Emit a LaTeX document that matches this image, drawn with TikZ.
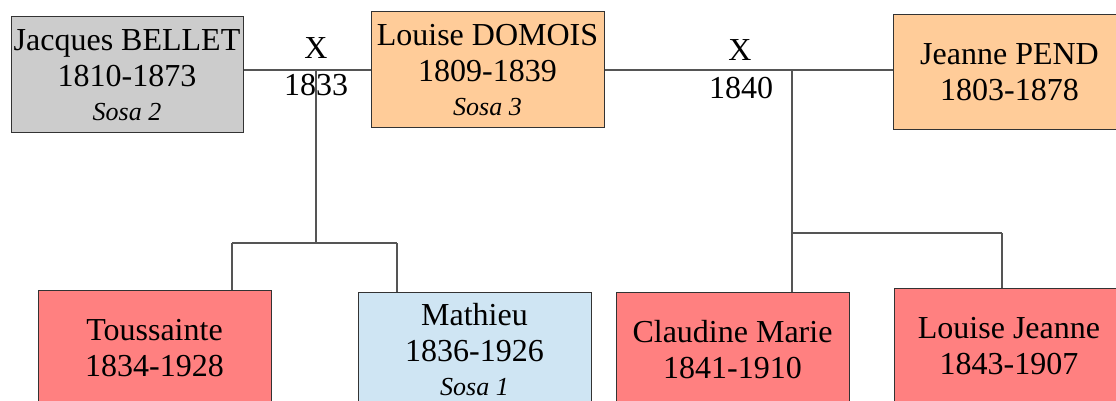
\documentclass[tikz,border=0pt]{standalone}
\usepackage{fontspec}
\setmainfont{Liberation Serif}
\definecolor{grayfill}{HTML}{CCCCCC}
\definecolor{orangefill}{HTML}{FFCC99}
\definecolor{redfill}{HTML}{FF8080}
\definecolor{bluefill}{HTML}{CFE5F3}
\definecolor{boxline}{HTML}{333333}
\definecolor{linkline}{HTML}{555555}
\tikzset{
  person/.style={draw=boxline, line width=1pt, rectangle, minimum width=233pt, minimum height=116pt,
    inner sep=0pt, align=center, font=\fontsize{32}{36}\selectfont},
  link/.style={draw=linkline, line width=1.3pt},
  lbl/.style={inner sep=0pt, font=\fontsize{32}{35}\selectfont},
}
\newcommand{\sosa}[1]{{\fontsize{26}{30}\selectfont\itshape Sosa #1}}
\begin{document}
\begin{tikzpicture}[x=1pt,y=-1pt]
\useasboundingbox (0,0) rectangle (1116,401);
\node[person, fill=grayfill, minimum width=232pt] (jacques) at (127,75) {Jacques BELLET\\1810-1873\\[-2pt]\sosa{2}};
\node[person, fill=orangefill] (louise) at (487.5,70) {Louise DOMOIS\\1809-1839\\[-2pt]\sosa{3}};
\node[person, fill=orangefill, minimum height=115pt] (jeanne) at (1009.5,72.5) {Jeanne PEND\\1803-1878};
\node[person, fill=redfill] (tous) at (154.5,348) {Toussainte\\1834-1928};
\node[person, fill=bluefill] (mathieu) at (474.5,350) {Mathieu\\1836-1926\\[-2pt]\sosa{1}};
\node[person, fill=redfill] (claudine) at (732.5,350) {Claudine Marie\\1841-1910};
\node[person, fill=redfill, minimum width=230pt] (louisej) at (1009,346) {Louise Jeanne\\1843-1907};

\node[lbl] (x1) at (316,48) {X};
\node[lbl] (y1) at (316,85) {1833};
\node[lbl] (x2) at (740,50) {X};
\node[lbl] (y2) at (741,88) {1840};

\coordinate (m1) at (316,70);
\coordinate (b1) at (316,243);
\coordinate (bl1) at (232,243);
\coordinate (br1) at (397,243);
\coordinate (m2) at (792,70);
\coordinate (b2) at (792,233);
\coordinate (br2) at (1002,233);

\draw[link] (louise.west) -- (louise.west -| jacques.east);
\draw[link] (m1) -- (b1);
\draw[link] (bl1) -- (br1);
\draw[link] (bl1) -- (bl1 |- tous.north);
\draw[link] (br1) -- (br1 |- mathieu.north);

\draw[link] (louise.east) -- (louise.east -| jeanne.west);
\draw[link] (m2) -- (b2 |- claudine.north);
\draw[link] (b2) -- (br2);
\draw[link] (br2) -- (br2 |- louisej.north);
\end{tikzpicture}
\end{document}
